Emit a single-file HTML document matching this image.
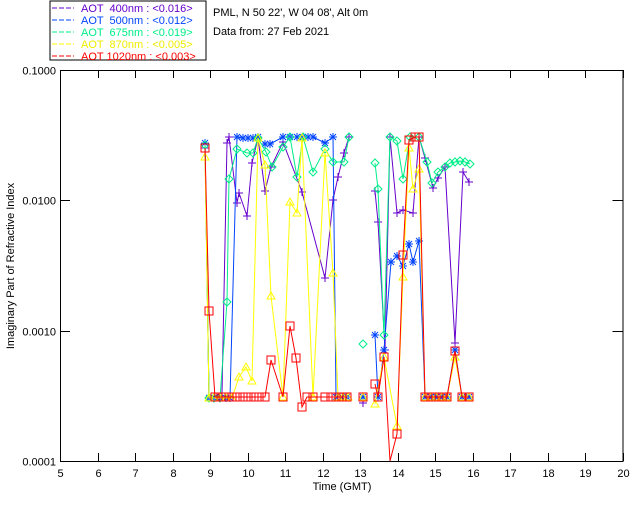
<!DOCTYPE html>
<html><head><meta charset="utf-8"><style>
body{margin:0;background:#fff;width:640px;height:512px;overflow:hidden}
svg{display:block;font-family:"Liberation Sans",sans-serif}
</style></head><body>
<svg id="s" width="640" height="512" xmlns="http://www.w3.org/2000/svg">
<rect x="0" y="0" width="640" height="512" fill="#fff"/>
<rect x="50" y="1" width="156" height="59" fill="#fff" stroke="#000" stroke-width="1"/>
<g font-size="11">
<g stroke-width="1"><line x1="52" y1="8" x2="74" y2="8" stroke="#6600cc" stroke-dasharray="5,2"/><line x1="52" y1="20" x2="74" y2="20" stroke="#0044ff" stroke-dasharray="5,2"/><line x1="52" y1="32" x2="74" y2="32" stroke="#00ee88" stroke-dasharray="5,2"/><line x1="52" y1="44" x2="74" y2="44" stroke="#ffff00" stroke-dasharray="5,2"/><line x1="52" y1="56" x2="74" y2="56" stroke="#ff0000" stroke-dasharray="5,2"/></g>
<text x="81" y="12" fill="#6600cc" xml:space="preserve">AOT  400nm : &lt;0.016&gt;</text>
<text x="81" y="24" fill="#0044ff" xml:space="preserve">AOT  500nm : &lt;0.012&gt;</text>
<text x="81" y="36" fill="#00ee88" xml:space="preserve">AOT  675nm : &lt;0.019&gt;</text>
<text x="81" y="48" fill="#eeee00" xml:space="preserve">AOT  870nm : &lt;0.005&gt;</text>
<text x="81" y="60" fill="#ff0000" xml:space="preserve">AOT 1020nm : &lt;0.003&gt;</text>
<text x="213" y="16" fill="#000">PML, N 50 22', W 04 08', Alt 0m</text>
<text x="213" y="35" fill="#000">Data from: 27 Feb 2021</text>
</g>
<g id="ax" stroke="#000" stroke-width="1" fill="none"></g>
<g id="tx" font-size="11" fill="#000"></g>
<g id="ser" fill="none" stroke-width="1"></g>
<text x="342" y="490" font-size="11" text-anchor="middle">Time (GMT)</text>
<text transform="translate(14,266) rotate(-90)" font-size="11" text-anchor="middle">Imaginary Part of Refractive Index</text>
</svg>
<script>
var NS="http://www.w3.org/2000/svg";
function el(p,t,a,txt){var e=document.createElementNS(NS,t);for(var k in a)e.setAttribute(k,a[k]);if(txt!==undefined)e.textContent=txt;document.getElementById(p).appendChild(e);return e;}
var L=60,R=622.5,T=70,B=461;
el("ax","rect",{x:L+.5,y:T+.5,width:R-L,height:B-T});
for(var h=5;h<=20;h++){var x=Math.round(L+37.5*(h-5))+.5;el("ax","line",{x1:x,y1:B,x2:x,y2:B-8});el("ax","line",{x1:x,y1:T,x2:x,y2:T+8});el("tx","text",{x:x,y:B+16,"text-anchor":"middle"},h);}
var ys=["0.1000","0.0100","0.0010","0.0001"];
for(var i=0;i<4;i++){var y=Math.round(T+i*(B-T)/3)+.5;el("ax","line",{x1:L,y1:y,x2:L+10,y2:y});el("ax","line",{x1:R,y1:y,x2:R-10,y2:y});el("tx","text",{x:56,y:y+4,"text-anchor":"end"},ys[i]);}
function ser(col,pts,mk){
 var segs=[[]];
 pts.forEach(function(p){if(p[3]===1&&segs[segs.length-1].length)segs.push([]);segs[segs.length-1].push(p);});
 segs.forEach(function(s){if(s.length>1)el("ser","polyline",{points:s.map(p=>p[0]+","+p[1]).join(" "),stroke:col});});
 pts.forEach(function(p){var x=p[0],y=p[1],d;
  if(p[2]===0)return;
  if(mk=="plus")d=`M${x-4} ${y}h8M${x} ${y-4}v8`;
  else if(mk=="ast")d=`M${x-4} ${y}h8M${x} ${y-4}v8M${x-3} ${y-3}l6 6M${x+3} ${y-3}l-6 6`;
  else if(mk=="dia")d=`M${x} ${y-4}l4 4l-4 4l-4 -4z`;
  else if(mk=="tri")d=`M${x} ${y-4}l4 7h-8z`;
  else d=`M${x-4} ${y-4}h8v8h-8z`;
  el("ser","path",{d:d,stroke:col});});
}
var lowrun=function(a,b){var r=[];for(var x=a;x<=b+0.1;x+=5.5)r.push([Math.round(x),397]);return r;};
ser("#6600cc",[[205,148],[209,398],[222,393],[227,143],[229,137],[237,203],[239,193],[247,216],[252,163],[258,138],[265,191],[271,167],[283,142],[302,192],[325,278],[333,200],[338,177],[344,153],[349,137],[363,403,1,1],[375,191,1,1],[378,222],[385,350],[390,137],[397,213],[403,210],[413,213],[419,137],[425,158],[433,188],[438,178],[445,167],[455,343],[463,172],[469,182]],"plus");
ser("#0044ff",[[205,143],[209,398],[214,398],[220,398],[226,398],[230,398],[237,137],[243,138],[248,138],[253,138],[258,137],[265,144],[270,144],[283,137],[290,137],[297,137],[303,137],[308,137],[313,137],[325,143],[333,137],[336,397],[342,397],[347,397],[363,397,1,1],[375,335,1,1],[378,397],[384,350],[391,262],[397,256],[403,266],[409,244],[413,262],[419,241]].concat(lowrun(425,450)).concat([[455,350],[462,397],[469,397]]),"ast");
ser("#00ee88",[[205,145],[209,398],[214,398],[220,398],[227,302],[229,179],[237,149],[247,153],[253,153],[258,138],[266,152],[272,167],[283,147],[290,137],[297,177],[303,137],[313,172],[325,149],[333,162],[344,162],[349,137],[363,344,1,1],[375,163,1,1],[378,189],[384,335],[390,137],[397,141],[403,179],[410,137],[419,137],[427,162],[432,183],[438,172],[445,167],[450,163],[455,162],[460,161],[465,162],[470,164]],"dia");
ser("#ffff00",[[205,157],[209,398],[214,398],[220,398],[226,398],[232,398],[239,377],[246,367],[252,381],[258,138],[265,165],[271,296],[283,397],[290,202],[297,213],[302,138],[313,397],[325,153],[333,273],[338,397],[343,397],[348,397],[363,397,1,1],[375,404,1,1],[384,357],[397,426],[403,277],[409,148],[413,189],[419,169]].concat(lowrun(425,450)).concat([[455,357],[462,397],[469,397]]),"tri");
ser("#ff0000",[[205,148],[209,311]].concat(lowrun(215,265)).concat([[271,360],[283,397],[290,326],[296,358],[302,407],[307,397],[313,397],[325,397],[331,397],[336,397],[342,397],[347,397],[363,397,1,1],[375,384,1,1],[378,397],[384,357],[390,461,0],[397,434],[403,255],[409,140],[415,137],[419,137]]).concat(lowrun(425,450)).concat([[455,351],[462,397],[469,397]]),"sq");
</script>
</body></html>
